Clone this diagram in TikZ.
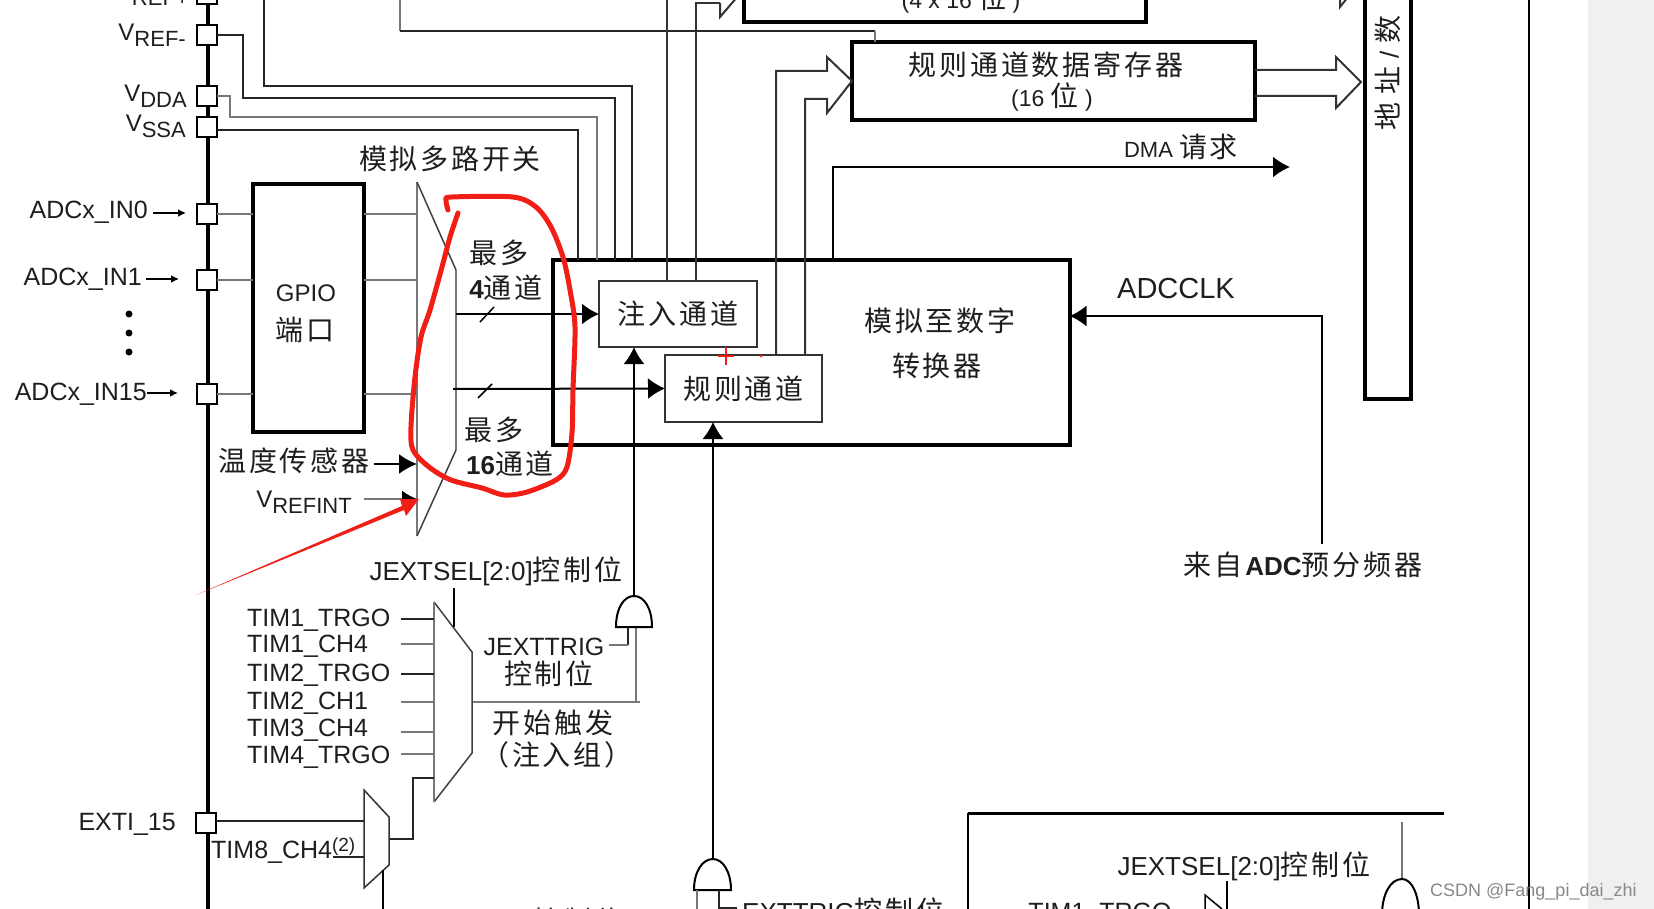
\documentclass[tikz,border=0pt]{standalone}
\usepackage{fontspec}
\usepackage{xcolor}
\usepackage{tikz}
\usetikzlibrary{arrows.meta, calc}
\setmainfont{Liberation Sans}
\newfontfamily\cjk[LetterSpace=10]{Noto Sans CJK SC}
\newcommand{\cn}[1]{{\cjk\fontsize{28}{30}\selectfont #1}}
\newcommand{\vsub}[1]{V\raisebox{-6pt}{\fontsize{22}{22}\selectfont #1}}
\definecolor{ink}{RGB}{30, 30, 30}
\definecolor{thinwire}{RGB}{120, 120, 120}
\definecolor{markred}{RGB}{240, 30, 20}
\definecolor{stripbg}{RGB}{240, 240, 240}
\definecolor{stamp}{RGB}{135, 135, 135}

\begin{document}
\begin{tikzpicture}[
    x=1pt, y=-1pt,
    block/.style={rectangle, draw=black, fill=white, line width=4pt, inner sep=0pt, outer sep=0pt},
    subblock/.style={rectangle, draw=black!80, fill=white, line width=2pt, inner sep=0pt, outer sep=0pt, font=\fontsize{26}{30}\selectfont, text=ink},
    pin/.style={rectangle, draw=black, fill=white, line width=2pt, minimum width=20pt, minimum height=20pt, inner sep=0pt, outer sep=0pt},
    lab/.style={inner sep=0pt, text=ink, font=\fontsize{25}{28}\selectfont},
    cnlab/.style={inner sep=0pt, text=ink, font=\fontsize{26}{30}\selectfont},
    wire/.style={line width=1.5pt, color=thinwire},
    darkwire/.style={line width=2pt, color=black!85},
    arrow/.style={-{Latex[length=17pt,width=21pt]}, line width=2pt, color=black},
    smallarrow/.style={-{Latex[length=8pt,width=8pt]}, line width=2pt, color=black},
    hollow/.style={line width=2pt, color=black!80, line join=miter},
    markup/.style={color=markred, line width=5pt, line cap=round, line join=round}
]
    \useasboundingbox (0,0) rectangle (1654,909);
    \clip (0,0) rectangle (1654,909);

    % Frame and strip
    \fill[stripbg] (1588,0) rectangle (1654,909);
    \draw[line width=2pt] (1529,0) -- (1529,909);
    \draw[line width=4pt] (208,0) -- (208,909);

    % Pins
    \node[pin] (pinrefp) at (207,-6) {};
    \node[pin] (pinrefm) at (207,35) {};
    \node[pin] (pinvdda) at (207,96) {};
    \node[pin] (pinvssa) at (207,127) {};
    \node[pin] (pinin0) at (207,214) {};
    \node[pin] (pinin1) at (207,280) {};
    \node[pin] (pinin15) at (207,394) {};
    \node[pin] (pinexti) at (206,823) {};

    % Pin labels
    \node[lab, anchor=east, font=\fontsize{24}{28}\selectfont] (labrefp) at (189,-6) {\vsub{REF+}};
    \node[lab, anchor=east, font=\fontsize{24}{28}\selectfont] (labrefm) at (186,35) {\vsub{REF-}};
    \node[lab, anchor=east, font=\fontsize{24}{28}\selectfont] (labvdda) at (187,96) {\vsub{DDA}};
    \node[lab, anchor=east, font=\fontsize{24}{28}\selectfont] (labvssa) at (186,126) {\vsub{SSA}};
    \node[lab, anchor=east] (labin0) at (148,212) {ADCx\_IN0};
    \node[lab, anchor=east] (labin1) at (142,279) {ADCx\_IN1};
    \node[lab, anchor=east] (labin15) at (147,394) {ADCx\_IN15};
    \node[lab, anchor=east] (labexti) at (176,824) {EXTI\_15};
    \coordinate (tipin0) at (186,213);
    \coordinate (tipin1) at (179,279);
    \coordinate (tipin15) at (178,393);
    \draw[smallarrow] ($(labin0.east |- tipin0)+(5,0)$) -- (tipin0);
    \draw[smallarrow] ($(labin1.east |- tipin1)+(4,0)$) -- (tipin1);
    \draw[smallarrow] (labin15.east |- tipin15) -- (tipin15);
    \fill[black] (129,314) circle (3.5pt) (129,333) circle (3.5pt) (129,352) circle (3.5pt);

    % Boxes
    \node[block, minimum width=111pt, minimum height=248pt] (gpio) at (308.5,308) {};
    \node[lab, font=\fontsize{24}{28}\selectfont] (gpiotext) at (306,293) {GPIO};
    \node[cnlab] (gpioport) at (305,330) {\cn{端口}};
    \node[block, minimum width=517pt, minimum height=185pt] (adc) at (811,352.5) {};
    \node[block, minimum width=402pt, minimum height=84pt] (injdata) at (945,-20) {};
    \node[block, minimum width=403pt, minimum height=78pt] (regdata) at (1053.5,81) {};
    \node[block, minimum width=46pt, minimum height=498pt] (addrbus) at (1388,150) {};

    % Supply wires
    \coordinate (topwire) at (264,0);
    \draw[darkwire] (topwire) |- (632,86) -- (adc.north -| 632,0);
    \draw[darkwire] (pinrefm.east) -- (243,35) |- (615,98) -- (adc.north -| 615,0);
    \draw[wire] (pinvdda.east) -- (230,96) |- (597,117) -- (adc.north -| 597,0);
    \draw[darkwire] (pinvssa.east |- 0,130) -- (578,130) -- (adc.north -| 578,0);
    \coordinate (vrefwire) at (400,0);
    \draw[wire] (vrefwire) -- (400,31);
    \draw[darkwire] (400,31) -- (875,31);
    \draw[wire] (875,31) -- (regdata.north -| 875,0);

    % Analog mux
    \coordinate (muxa) at (417,182);
    \coordinate (muxb) at (456,270);
    \coordinate (muxc) at (456,450);
    \coordinate (muxd) at (417,536);
    \draw[wire] (muxd) -- (muxa);
    \draw[wire] (muxb) -- (muxc);
    \draw[line width=1.5pt, color=black!75] (muxa) -- (muxb) (muxc) -- (muxd);
    \draw[wire] (pinin0) -- (gpio.west |- pinin0);
    \draw[wire] (pinin1) -- (gpio.west |- pinin1);
    \draw[wire] (pinin15) -- (gpio.west |- pinin15);
    \draw[wire] (gpio.east |- pinin0) -- (muxa |- pinin0);
    \draw[wire] (gpio.east |- pinin1) -- (muxa |- pinin1);
    \draw[wire] (gpio.east |- pinin15) -- (muxa |- pinin15);
    \node[cnlab] (muxname) at (450,159) {\cn{模拟多路开关}};

    % Channel groups
    \node[subblock, minimum width=158pt, minimum height=66pt] (inj) at (678,314) {\cn{注入通道}};
    \node[subblock, minimum width=157pt, minimum height=67pt] (reg) at (743.5,388.5) {\cn{规则通道}};
    \draw[arrow] (muxb |- inj) -- (inj.west);
    \draw[arrow] (453,389) -- (reg.west);
    \draw[line width=1.5pt] (480,322) -- (494,307);
    \draw[line width=1.5pt] (478,398) -- (492,384);
    \node[cnlab] (most4) at (499,253) {\cn{最多}};
    \node[cnlab] (ch4) at (506,288) {\textbf{4}\cn{通道}};
    \node[cnlab] (most16) at (494,430) {\cn{最多}};
    \node[cnlab] (ch16) at (510,464) {\textbf{16}\cn{通道}};

    % ADC text
    \node[cnlab] (adcone) at (940,321) {\cn{模拟至数字}};
    \node[cnlab] (adctwo) at (937,366) {\cn{转换器}};

    % Data paths
    \draw[hollow] (inj.north -| 667,0) -- (667,0);
    \draw[hollow] (inj.north -| 696,0) -- (696,3) -- (720,3);
    \draw[hollow] (720,3) -- (720,17) -- (744,-11);
    \draw[hollow] (reg.north -| 776,0) -- (776,71) -- (827,71) -- (827,57) -- (regdata.west) -- (827,113) -- (827,99) -- (805,99) -- (reg.north -| 805,0);
    \draw[hollow] (regdata.east |- 0,70) -- (1336,70) -- (1336,57) -- (1361,82) -- (1336,108) -- (1336,96) -- (regdata.east |- 0,96);
    \draw[hollow] (1340,-10) -- (1340,7) -- (1352,-8);
    \node[cnlab] (regname) at (1046,65) {\cn{规则通道数据寄存器}};
    \node[lab, font=\fontsize{23}{28}\selectfont] (regsize) at (1052,97) {(16 \cn{位} )};
    \node[lab, font=\fontsize{23}{28}\selectfont] (injsize) at (961,-1) {(4 x 16 \cn{位} )};
    \node[cnlab, rotate=90] (addrname) at (1388,73) {\cn{地}\hspace{8pt}\cn{址}\hspace{8pt}/\hspace{8pt}\cn{数}};

    % DMA and clock
    \draw[arrow] (adc.north -| 833,0) -- (833,167) -- (1290,167);
    \node[lab, font=\fontsize{22}{28}\selectfont] (dmareq) at (1181,147) {DMA \cn{请求}};
    \coordinate (clkfoot) at (1322,544);
    \draw[arrow] (clkfoot) |- (adc.east |- 0,316);
    \node[lab, font=\fontsize{29}{32}\selectfont] (adcclk) at (1176,289) {ADCCLK};
    \node[cnlab] (clksrc) at (1303,565) {\cn{来自}\textbf{ADC}\cn{预分频器}};

    % Injected trigger
    \draw[wire] (473,702) -- (640,702);
    \draw[wire] (636,627) -- (636,702);
    \draw[darkwire] (628,627) -- (628,645);
    \draw[wire] (628,645) -- (609,645);
    \coordinate (gatej) at (634,596);
    \draw[arrow] (gatej) -- (inj.south -| gatej);
    \draw[line width=2pt, fill=white] (616,627) .. controls (616,608) and (624,596) .. (gatej) .. controls (644,596) and (652,608) .. (652,627) -- cycle;
    \node[cnlab] (jsel) at (496,571) {JEXTSEL[2:0]\cn{控制位}};
    \node[lab] (jtrig) at (544,647) {JEXTTRIG};
    \node[cnlab] (jctrl) at (549,674) {\cn{控制位}};
    \node[cnlab] (jstart) at (553,723) {\cn{开始触发}};
    \node[cnlab] (jgroup) at (557,755) {\cn{（注入组）}};

    % Trigger mux
    \coordinate (trga) at (434,602);
    \coordinate (trgb) at (472,652);
    \coordinate (trgc) at (472,753);
    \coordinate (trgd) at (434,802);
    \draw[line width=1.5pt, color=black!75] (trga) -- (trgb) -- (trgc) -- (trgd);
    \draw[wire] (trgd) -- (trga);
    \draw[line width=1.5pt] (454,588) -- (454,627);
    \node[lab, anchor=west] (tima) at (247,620) {TIM1\_TRGO};
    \node[lab, anchor=west] (timb) at (247,646) {TIM1\_CH4};
    \node[lab, anchor=west] (timc) at (247,675) {TIM2\_TRGO};
    \node[lab, anchor=west] (timd) at (247,703) {TIM2\_CH1};
    \node[lab, anchor=west] (time) at (247,730) {TIM3\_CH4};
    \node[lab, anchor=west] (timf) at (247,757) {TIM4\_TRGO};
    \draw[darkwire] (401,619) -- (trga |- 0,619);
    \draw[wire] (401,644) -- (trga |- 0,644);
    \draw[darkwire] (401,674) -- (trga |- 0,674);
    \draw[wire] (401,702) -- (trga |- 0,702);
    \draw[wire] (401,732) -- (trga |- 0,732);
    \draw[wire] (401,754) -- (trga |- 0,754);

    % Ext mux
    \coordinate (exta) at (364,790);
    \coordinate (extb) at (389,817);
    \coordinate (extc) at (389,865);
    \coordinate (extd) at (364,888);
    \draw[line width=1.5pt, color=black!80] (exta) -- (extb) -- (extc) -- (extd) -- cycle;
    \draw[darkwire] (pinexti.east |- 0,821) -- (exta |- 0,821);
    \draw[darkwire] (333,857) -- (exta |- 0,857);
    \draw[darkwire] (extb |- 0,839) -- (413,839) -- (413,778) -- (trga |- 0,778);
    \draw[line width=1.5pt] (383,870) -- (383,909);
    \node[lab, anchor=west] (timh) at (211,851) {TIM8\_CH4\raisebox{7pt}{\fontsize{19}{20}\selectfont(2)}};

    % Regular trigger
    \coordinate (gater) at (713,859);
    \draw[arrow, line width=1.5pt] (gater) -- (reg.south -| gater);
    \draw[line width=2pt, fill=white] (694,890) .. controls (694,872) and (702,859) .. (gater) .. controls (723,859) and (731,872) .. (731,890) -- cycle;
    \draw[wire] (697,890) -- (697,909);
    \draw[darkwire] (719,890) -- (719,908) -- (737,908);
    \node[cnlab, anchor=west] (rtrig) at (742,911) {EXTTRIG\cn{控制位}};
    \node[cnlab] (rsel) at (578,921) {\cn{控制位}};

    % Lower ADC block
    \draw[line width=2pt] (968,909) -- (968,813);
    \draw[line width=3pt] (968,813) -- (1444,813);
    \node[cnlab] (lsel) at (1244,866) {JEXTSEL[2:0]\cn{控制位}};
    \node[lab] (ltim) at (1100,914) {TIM1\_TRGO};
    \draw[line width=1.5pt] (1227,881) -- (1227,909);
    \draw[line width=1.5pt] (1205,909) -- (1205,895) -- (1222,909);
    \coordinate (gatel) at (1402,879);
    \draw[wire] (gatel) -- (1402,822);
    \draw[line width=2pt, fill=white] (1382,915) .. controls (1382,895) and (1390,879) .. (gatel) .. controls (1412,879) and (1419,895) .. (1419,915) -- cycle;

    % Temperature and reference inputs
    \node[cnlab] (tempsens) at (294,461) {\cn{温度传感器}};
    \coordinate (muxtemp) at (417,464);
    \coordinate (muxref) at (417,499);
    \draw[arrow, -{Latex[length=18pt,width=20pt]}] ($(tempsens.east |- muxtemp)+(4,0)$) -- (muxtemp);
    \node[lab, font=\fontsize{24}{28}\selectfont] (vrefint) at (304,502) {\vsub{REFINT}};
    \draw[wire, arrows={-{Latex[black,length=15pt,width=17pt]}}] (364,499) -- (muxref);

    % Red marks
    \draw[markup] plot[smooth, tension=0.5] coordinates {(448,210) (446,200) (452,197) (513,197) (536,207) (551,227) (563,257) (570,290) (575,327) (573,390) (572,433) (567,467) (556,480) (527,492) (504,495) (482,488) (451,480) (429,467) (413,450) (411,427) (415,377) (421,337) (430,310) (442,267) (450,237) (458,213)};
    \fill[markred] (196,595) -- (402,506) -- (400,499) -- (419,499) -- (406,516) -- (404,510) -- cycle;
    \draw[markred, line width=2.5pt] (718,356) -- (734,356) (726,347) -- (726,365);
    \fill[markred] (761,356) circle (1.5pt);

    % Watermark
    \node[lab, text=stamp, anchor=west, font=\fontsize{18}{22}\selectfont] (mark) at (1430,892) {CSDN @Fang\_pi\_dai\_zhi};
\end{tikzpicture}
\end{document}
